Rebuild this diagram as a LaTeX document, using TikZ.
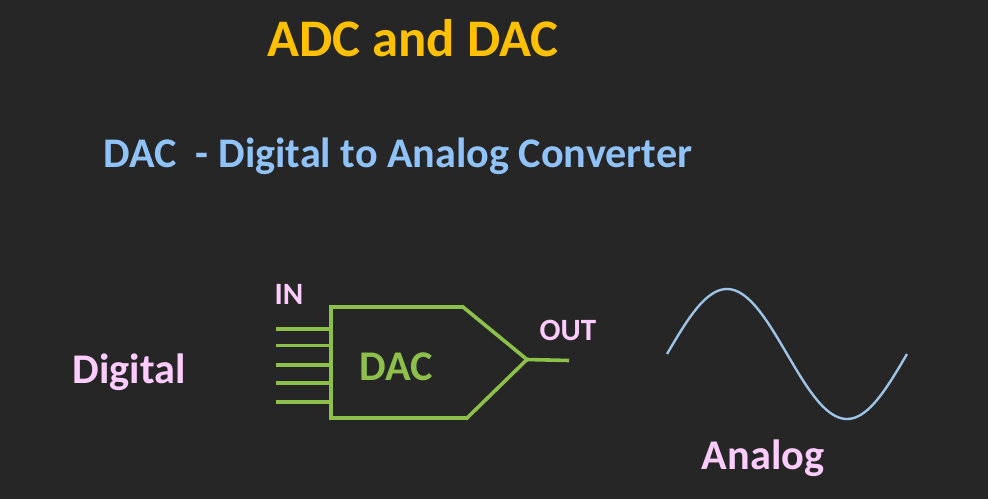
\documentclass[tikz,border=0pt]{standalone}
\usepackage{fontspec}
\setmainfont{Carlito}
\definecolor{bgcol}{HTML}{262626}
\definecolor{titlecol}{HTML}{FFC000}
\definecolor{subcol}{HTML}{8FC3FA}
\definecolor{pinkcol}{HTML}{FFCCFF}
\definecolor{greencol}{HTML}{8CC04A}
\definecolor{sinecol}{HTML}{9DC3E6}
\begin{document}
\begin{tikzpicture}[x=1pt, y=-1pt,
    label/.style={text=pinkcol, font=\bfseries\fontsize{#1}{#1}\selectfont, inner sep=0pt},
    dacline/.style={draw=greencol, line width=3.6pt}]
              \fill[bgcol] (0,0) rectangle (988,499);
              \useasboundingbox (0,0) rectangle (988,499);

              \node[inner sep=0pt, text=titlecol, font=\bfseries\fontsize{52.8}{52.8}\selectfont] (title) at (413,38) {ADC and DAC};
              \node[inner sep=0pt, text=subcol, font=\bfseries\fontsize{42.2}{42.2}\selectfont] (sub) at (398,156) {DAC\ \ - Digital to Analog Converter};

              \node[label=42.3] (digital) at (129,372) {Digital};
              \node[label=42.3] (analog) at (763,458) {Analog};
              \node[label=31] (in) at (289,294) {IN};
              \node[label=31] (out) at (568,330.5) {OUT};
              \node[inner sep=0pt, text=greencol, font=\bfseries\fontsize{42.3}{42.3}\selectfont] (dac) at (396.5,367) {DAC};

              \coordinate (NW) at (331,307);
              \coordinate (NE) at (463,307);
              \coordinate (T) at (527,359.5);
              \coordinate (SE) at (467,418);
              \coordinate (SW) at (331,418);
              \coordinate (O) at (569,360.5);
              \draw[dacline, line join=miter] (NW) -- (NE) -- (T) -- (SE) -- (SW) -- cycle;
              \draw[dacline] (T) -- (O);

              \foreach \i/\y in {1/329, 2/345.5, 3/365, 4/383, 5/402} {
                \coordinate (I\i) at (276,\y);
                \coordinate (J\i) at (331,\y);
                \draw[dacline] (I\i) -- (J\i);
              }

              \draw[sinecol, line width=2.4pt] plot[domain=0:240, samples=81, smooth] ({667+\x}, {354-65*sin(1.5*\x)});
            \end{tikzpicture}
\end{document}
